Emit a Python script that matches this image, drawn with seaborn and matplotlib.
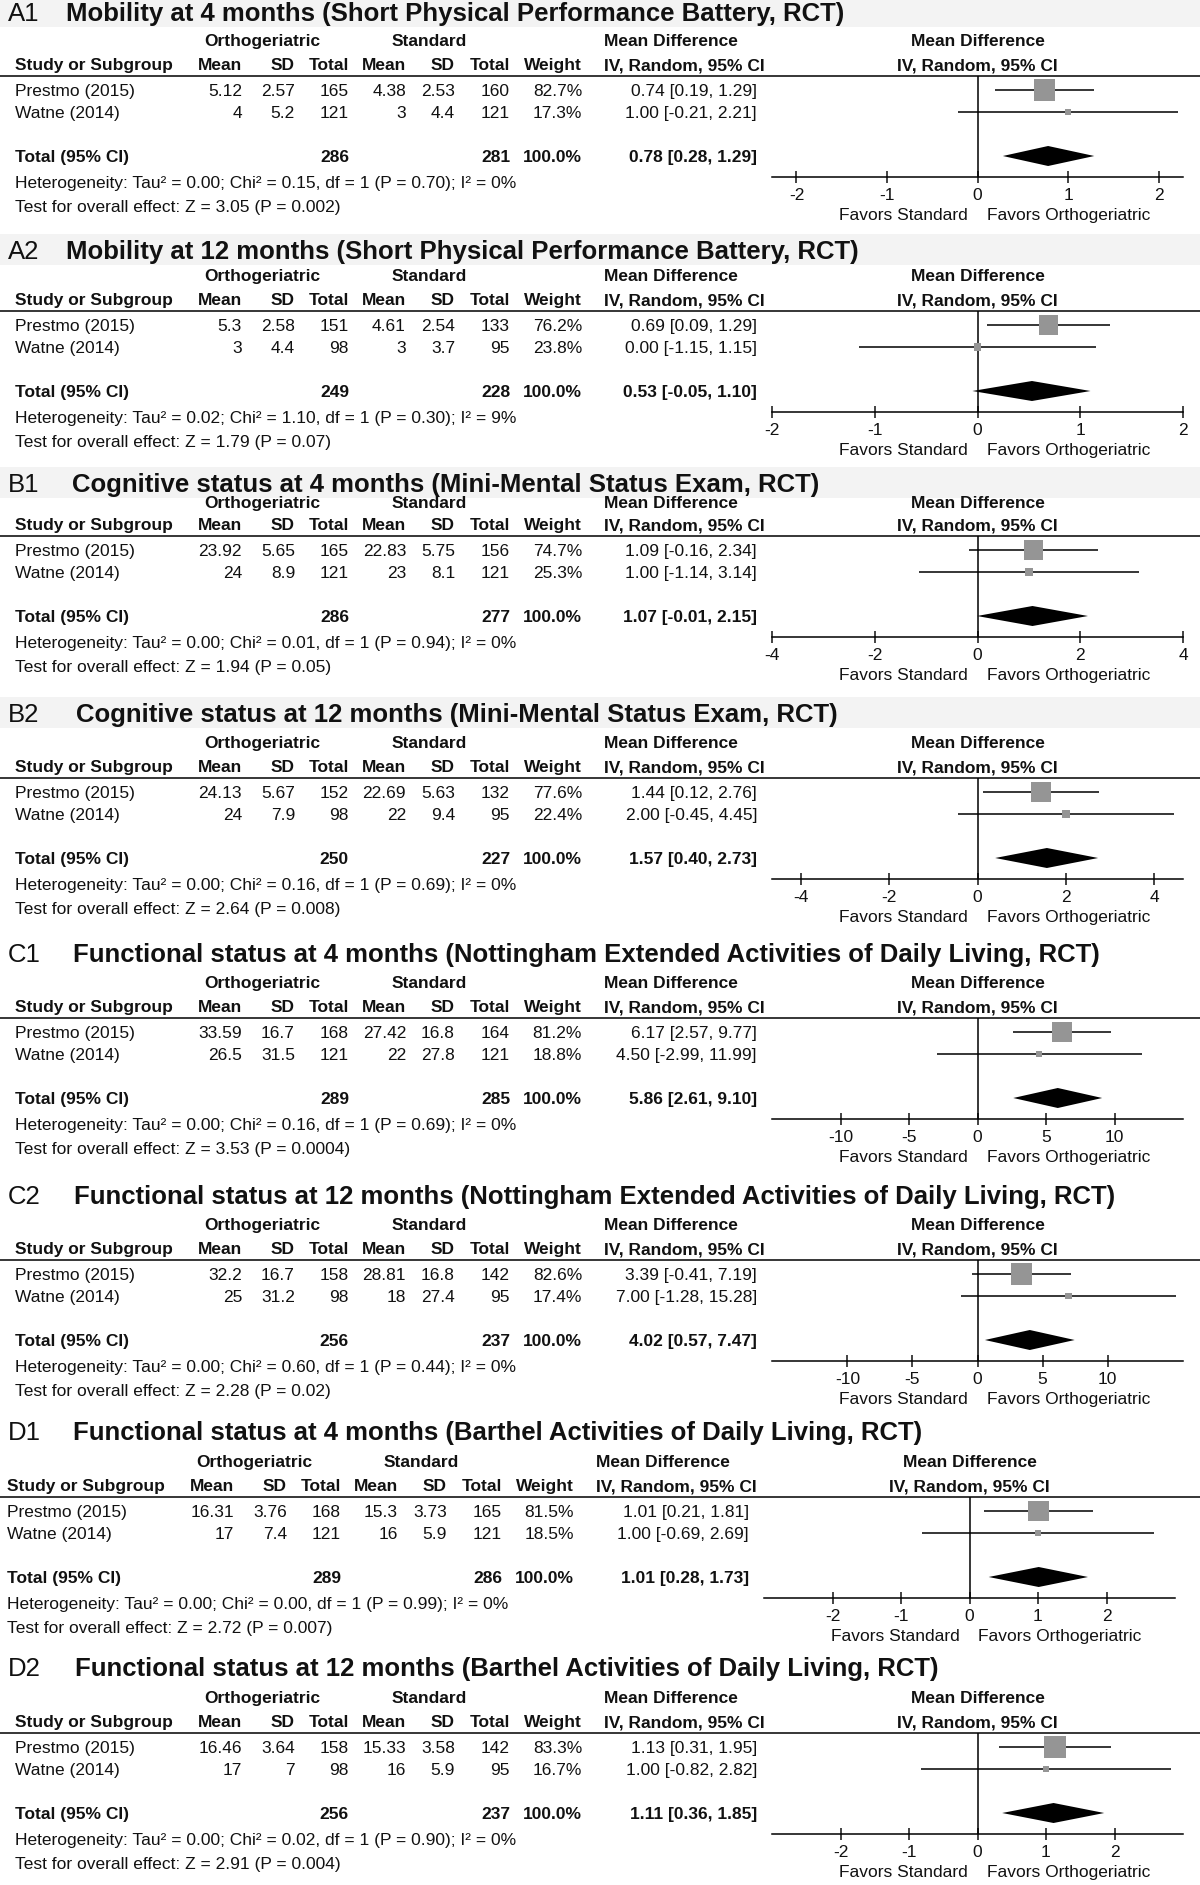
import numpy as np
import pandas as pd
import matplotlib
matplotlib.use("Agg")
import matplotlib.pyplot as plt
import seaborn as sns
from matplotlib.lines import Line2D
from matplotlib.patches import Rectangle

sns.set_style("white")
plt.rcParams['font.family'] = ['Liberation Sans', 'DejaVu Sans']
plt.rcParams['axes.unicode_minus'] = False

# ---------------- data ----------------
panel_ids = ["A1", "A2", "B1", "B2", "C1", "C2", "D1", "D2"]
titles = [
    "Mobility at 4 months (Short Physical Performance Battery, RCT)",
    "Mobility at 12 months (Short Physical Performance Battery, RCT)",
    "Cognitive status at 4 months (Mini-Mental Status Exam, RCT)",
    "Cognitive status at 12 months (Mini-Mental Status Exam, RCT)",
    "Functional status at 4 months (Nottingham Extended Activities of Daily Living, RCT)",
    "Functional status at 12 months (Nottingham Extended Activities of Daily Living, RCT)",
    "Functional status at 4 months (Barthel Activities of Daily Living, RCT)",
    "Functional status at 12 months (Barthel Activities of Daily Living, RCT)",
]
studies = ["Prestmo (2015)", "Watne (2014)"]
ortho_mean = [[5.12, 4], [5.3, 3], [23.92, 24], [24.13, 24], [33.59, 26.5], [32.2, 25], [16.31, 17], [16.46, 17]]
ortho_sd = [[2.57, 5.2], [2.58, 4.4], [5.65, 8.9], [5.67, 7.9], [16.7, 31.5], [16.7, 31.2], [3.76, 7.4], [3.64, 7]]
ortho_n = [[165, 121], [151, 98], [165, 121], [152, 98], [168, 121], [158, 98], [168, 121], [158, 98]]
std_mean = [[4.38, 3], [4.61, 3], [22.83, 23], [22.69, 22], [27.42, 22], [28.81, 18], [15.3, 16], [15.33, 16]]
std_sd = [[2.53, 4.4], [2.54, 3.7], [5.75, 8.1], [5.63, 9.4], [16.8, 27.8], [16.8, 27.4], [3.73, 5.9], [3.58, 5.9]]
std_n = [[160, 121], [133, 95], [156, 121], [132, 95], [164, 121], [142, 95], [165, 121], [142, 95]]
weights = [[82.7, 17.3], [76.2, 23.8], [74.7, 25.3], [77.6, 22.4], [81.2, 18.8], [82.6, 17.4], [81.5, 18.5], [83.3, 16.7]]
md_est = [[0.74, 1.00], [0.69, 0.00], [1.09, 1.00], [1.44, 2.00], [6.17, 4.50], [3.39, 7.00], [1.01, 1.00], [1.13, 1.00]]
md_lo = [[0.19, -0.21], [0.09, -1.15], [-0.16, -1.14], [0.12, -0.45], [2.57, -2.99], [-0.41, -1.28], [0.21, -0.69], [0.31, -0.82]]
md_hi = [[1.29, 2.21], [1.29, 1.15], [2.34, 3.14], [2.76, 4.45], [9.77, 11.99], [7.19, 15.28], [1.81, 2.69], [1.95, 2.82]]
total_ortho = [286, 249, 286, 250, 289, 256, 289, 256]
total_std = [281, 228, 277, 227, 285, 237, 286, 237]
pooled_est = [0.78, 0.53, 1.07, 1.57, 5.86, 4.02, 1.01, 1.11]
pooled_lo = [0.28, -0.05, -0.01, 0.40, 2.61, 0.57, 0.28, 0.36]
pooled_hi = [1.29, 1.10, 2.15, 2.73, 9.10, 7.47, 1.73, 1.85]
tau2 = [0.00, 0.02, 0.00, 0.00, 0.00, 0.00, 0.00, 0.00]
chi2 = [0.15, 1.10, 0.01, 0.16, 0.16, 0.60, 0.00, 0.02]
p_het = ["0.70", "0.30", "0.94", "0.69", "0.69", "0.44", "0.99", "0.90"]
i2 = [0, 9, 0, 0, 0, 0, 0, 0]
z_vals = [3.05, 1.79, 1.94, 2.64, 3.53, 2.28, 2.72, 2.91]
p_overall = ["0.002", "0.07", "0.05", "0.008", "0.0004", "0.02", "0.007", "0.004"]
axis_ticks = [[-2, -1, 0, 1, 2], [-2, -1, 0, 1, 2], [-4, -2, 0, 2, 4], [-4, -2, 0, 2, 4],
              [-10, -5, 0, 5, 10], [-10, -5, 0, 5, 10], [-2, -1, 0, 1, 2], [-2, -1, 0, 1, 2]]
axis_half = [2.27, 2.0, 4.0, 4.65, 15.0, 15.8, 3.0, 3.0]

# ---------------- layout (pixels) ----------------
W, H = 1200, 1885
fig = plt.figure(figsize=(W / 100, H / 100), dpi=100)
fig.patch.set_facecolor("white")

TXT = "#111111"
FS = 12.5
TFS = 18.5
title_y = [12, 250, 483, 713, 953, 1195, 1431, 1667]
study_y = [64, 299, 524, 766, 1006, 1248, 1485, 1721]
title_x = [66, 66, 72, 76, 73, 74, 73, 75]
shift = [0, 0, 0, 0, 0, 0, -8, 0]
band = [True, True, True, True, False, False, False, False]
grp_off = [-24, -24, -22, -24, -24, -24, -24, -24]

col_right = {"m1": 242, "s1": 295, "n1": 349, "m2": 406, "s2": 455, "n2": 510, "w": 582, "md": 757}
row_off = [26, 48]
tot_off = 92
LINE_OFF = 12
AX_OFF = 113
FX0, FW = 772, 411


def cap_off(size):
    return 0.716 * size * 100 / 72 / 2


def put(x, y, s, size=FS, weight="normal", ha="left"):
    fig.text(x / W, 1 - (y + cap_off(size)) / H, s, fontsize=size, fontweight=weight,
             ha=ha, va="baseline", color=TXT)


def fmt(v):
    return f"{v:g}"


for i in range(8):
    ty, sy, sh = title_y[i], study_y[i], shift[i]
    if band[i]:
        fig.patches.append(Rectangle((0, 1 - (ty + 15) / H), 1, 31 / H, transform=fig.transFigure,
                                     facecolor="#f3f3f3", edgecolor="none", zorder=0))
    put(8, ty, panel_ids[i], size=TFS)
    put(title_x[i], ty, titles[i], size=TFS, weight="bold")

    # headers
    gy = sy + grp_off[i]
    put(262 + sh, gy, "Orthogeriatric", weight="bold", ha="center")
    put(429 + sh, gy, "Standard", weight="bold", ha="center")
    put(604 + sh, gy, "Mean Difference", weight="bold")
    zero_px = FX0 + FW / 2 + sh
    put(zero_px, gy, "Mean Difference", weight="bold", ha="center")
    put(15 + sh, sy, "Study or Subgroup", weight="bold")
    for key, lab in [("m1", "Mean"), ("s1", "SD"), ("n1", "Total"), ("m2", "Mean"),
                     ("s2", "SD"), ("n2", "Total"), ("w", "Weight")]:
        put(col_right[key] + sh, sy, lab, weight="bold", ha="right")
    put(604 + sh, sy, "IV, Random, 95% CI", weight="bold")
    put(zero_px, sy, "IV, Random, 95% CI", weight="bold", ha="center")
    fig.add_artist(Line2D([0, 1], [1 - (sy + LINE_OFF) / H] * 2, transform=fig.transFigure,
                          color="black", lw=1.1))

    # study rows
    for j in range(2):
        ry = sy + row_off[j]
        put(15 + sh, ry, studies[j])
        put(col_right["m1"] + sh, ry, fmt(ortho_mean[i][j]), ha="right")
        put(col_right["s1"] + sh, ry, fmt(ortho_sd[i][j]), ha="right")
        put(col_right["n1"] + sh, ry, str(ortho_n[i][j]), ha="right")
        put(col_right["m2"] + sh, ry, fmt(std_mean[i][j]), ha="right")
        put(col_right["s2"] + sh, ry, fmt(std_sd[i][j]), ha="right")
        put(col_right["n2"] + sh, ry, str(std_n[i][j]), ha="right")
        put(col_right["w"] + sh, ry, f"{weights[i][j]:.1f}%", ha="right")
        put(col_right["md"] + sh, ry,
            f"{md_est[i][j]:.2f} [{md_lo[i][j]:.2f}, {md_hi[i][j]:.2f}]", ha="right")

    # total row
    ry = sy + tot_off
    put(15 + sh, ry, "Total (95% CI)", weight="bold")
    put(col_right["n1"] + sh, ry, str(total_ortho[i]), weight="bold", ha="right")
    put(col_right["n2"] + sh, ry, str(total_std[i]), weight="bold", ha="right")
    put(col_right["w"] + sh, ry, "100.0%", weight="bold", ha="right")
    put(col_right["md"] + sh, ry,
        f"{pooled_est[i]:.2f} [{pooled_lo[i]:.2f}, {pooled_hi[i]:.2f}]", weight="bold", ha="right")
    put(15 + sh, sy + 118,
        f"Heterogeneity: Tau\u00b2 = {tau2[i]:.2f}; Chi\u00b2 = {chi2[i]:.2f}, df = 1 "
        f"(P = {p_het[i]}); I\u00b2 = {i2[i]}%")
    put(15 + sh, sy + 142, f"Test for overall effect: Z = {z_vals[i]:.2f} (P = {p_overall[i]})")

    # forest plot axes
    ax = fig.add_axes([(FX0 + sh) / W, 1 - (sy + AX_OFF) / H, FW / W, (AX_OFF - LINE_OFF) / H])
    ax.set_facecolor("none")
    df = pd.DataFrame({
        "est": md_est[i],
        "lo": md_lo[i],
        "hi": md_hi[i],
        "ypos": row_off,
        "w": weights[i],
    })
    side_px = 2.33 + 0.2285 * df["w"]
    df["area"] = (side_px * 0.72) ** 2
    ax.hlines(df["ypos"], df["lo"], df["hi"], color="black", lw=1.1, zorder=2)
    sns.scatterplot(data=df, x="est", y="ypos", marker="s", s=df["area"].values,
                    color="#959595", edgecolor="none", linewidth=0, legend=False,
                    ax=ax, zorder=3)
    dy = tot_off
    ax.fill([pooled_lo[i], pooled_est[i], pooled_hi[i], pooled_est[i]],
            [dy, dy - 10, dy, dy + 10], color="black", lw=0, zorder=3)
    ax.axvline(0, color="black", lw=1.1, zorder=1)
    ax.set_xlim(-axis_half[i], axis_half[i])
    ax.set_ylim(AX_OFF, LINE_OFF)
    ax.set_xlabel("")
    ax.set_ylabel("")
    ax.set_yticks([])
    ax.set_xticks(axis_ticks[i])
    ax.set_xticklabels([str(t) for t in axis_ticks[i]])
    ax.tick_params(axis="x", bottom=True, direction="inout", length=8.6, width=1.1,
                   pad=3.6, labelsize=FS, colors=TXT)
    for s in ["top", "left", "right"]:
        ax.spines[s].set_visible(False)
    ax.spines["bottom"].set_color("black")
    ax.spines["bottom"].set_linewidth(1.1)

    put(zero_px - 10, sy + 150, "Favors Standard", ha="right")
    put(zero_px + 9, sy + 150, "Favors Orthogeriatric", ha="left")

fig.savefig("out.png", dpi=100, facecolor="white")
